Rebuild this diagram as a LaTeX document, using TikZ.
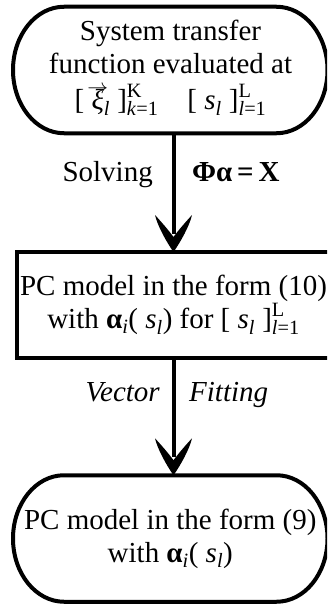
\documentclass[tikz,border=0pt]{standalone}
\usepackage{amsmath}
\usepackage{fontspec}
\setmainfont{Liberation Serif}
\usetikzlibrary{calc,arrows.meta}

\pgfdeclarearrow{
  name = Curvy,
  setup code = {
    \pgfarrowssettipend{0pt}
    \pgfarrowssetlineend{-18pt}
    \pgfarrowssetvisualbackend{-16pt}
    \pgfarrowssetbackend{-37pt}
    \pgfarrowshullpoint{0pt}{0pt}
    \pgfarrowshullpoint{-37pt}{18.5pt}
    \pgfarrowshullpoint{-37pt}{-18.5pt}
  },
  drawing code = {
    \pgfpathmoveto{\pgfpointorigin}
    \pgfpathcurveto{\pgfpoint{-10pt}{7pt}}{\pgfpoint{-26pt}{16pt}}{\pgfpoint{-37pt}{18.5pt}}
    \pgfpathcurveto{\pgfpoint{-31pt}{13pt}}{\pgfpoint{-22pt}{5pt}}{\pgfpoint{-15pt}{0pt}}
    \pgfpathcurveto{\pgfpoint{-22pt}{-5pt}}{\pgfpoint{-31pt}{-13pt}}{\pgfpoint{-37pt}{-18.5pt}}
    \pgfpathcurveto{\pgfpoint{-26pt}{-16pt}}{\pgfpoint{-10pt}{-7pt}}{\pgfpointorigin}
    \pgfpathclose
    \pgfusepathqfill
  },
  parameters = {},
}

\newcommand{\bigtext}{\fontsize{29}{33}\selectfont}
\newcommand{\brk}[2]{$\text{]}^{\text{#1}}_{\text{#2}}$}
\newcommand{\vxi}{\ooalign{\textit{ξ}\cr\hidewidth\smash{\raisebox{0.55em}{\fontsize{20}{20}\selectfont$\rightarrow$}}\hidewidth\cr}}
\newcommand{\drawterm}[1]{%
  \draw[border] ($(#1.north west)+(51,0)$) -- ($(#1.north east)+(-51,0)$)
    arc[start angle=90,end angle=-90,x radius=51pt,y radius=63.25pt]
    -- ($(#1.south west)+(51,0)$)
    arc[start angle=270,end angle=90,x radius=51pt,y radius=63.25pt] -- cycle;}

\tikzset{
  border/.style={line width=4pt, line join=round},
  termnode/.style={minimum width=314.5pt, minimum height=126.5pt, inner sep=0pt, outer sep=0pt, align=center, font=\bigtext},
  boxnode/.style={draw, line width=4pt, minimum width=314pt, minimum height=106pt, inner sep=0pt, outer sep=0pt, align=center, font=\bigtext},
  conn/.style={line width=4pt, -{Curvy}},
  lab/.style={inner sep=0pt, font=\bigtext},
  txt/.style={inner sep=0pt, align=center, font=\bigtext},
}

\begin{document}
\begin{tikzpicture}[x=1pt,y=1pt]
\useasboundingbox (0,0) rectangle (327,-607);
\clip (0,0) rectangle (327,-607);

\node[termnode] (sys) at (170.25,-70) {};
\drawterm{sys}
\node[txt] (systxt) at (170.5,-68) {System transfer\\function evaluated at\\[3pt]{[} \vxi$_{\text{\textit{l}}}$ \brk{K}{\textit{k}=1}\quad{[} \textit{s}\textsubscript{\textit{l}} \brk{L}{\textit{l}=1}};

\node[boxnode] (pc10) at (173.5,-305) {PC model in the form (10)\\with \textbf{α}\textsubscript{\textit{i}}( \textit{s}\textsubscript{\textit{l}}) for {[} \textit{s}\textsubscript{\textit{l}} \brk{L}{\textit{l}=1}};

\node[termnode] (pc9) at (170.25,-538.5) {PC model in the form (9)\\with \textbf{α}\textsubscript{\textit{i}}( \textit{s}\textsubscript{\textit{l}})};
\drawterm{pc9}

\draw[conn] (sys.south -| pc10.north) -- (pc10.north);
\draw[conn] (pc10.south) -- (pc9.north -| pc10.south);

\node[lab, anchor=base east] (solv) at (153,-181.7) {Solving};
\node[lab, anchor=base west] (eq) at (192,-181.7) {\textbf{Φα\,=\,X}};
\node[lab, anchor=base east] (vec) at (160,-401.7) {\textit{Vector}};
\node[lab, anchor=base west] (fit) at (189,-401.7) {\textit{Fitting}};
\end{tikzpicture}
\end{document}
